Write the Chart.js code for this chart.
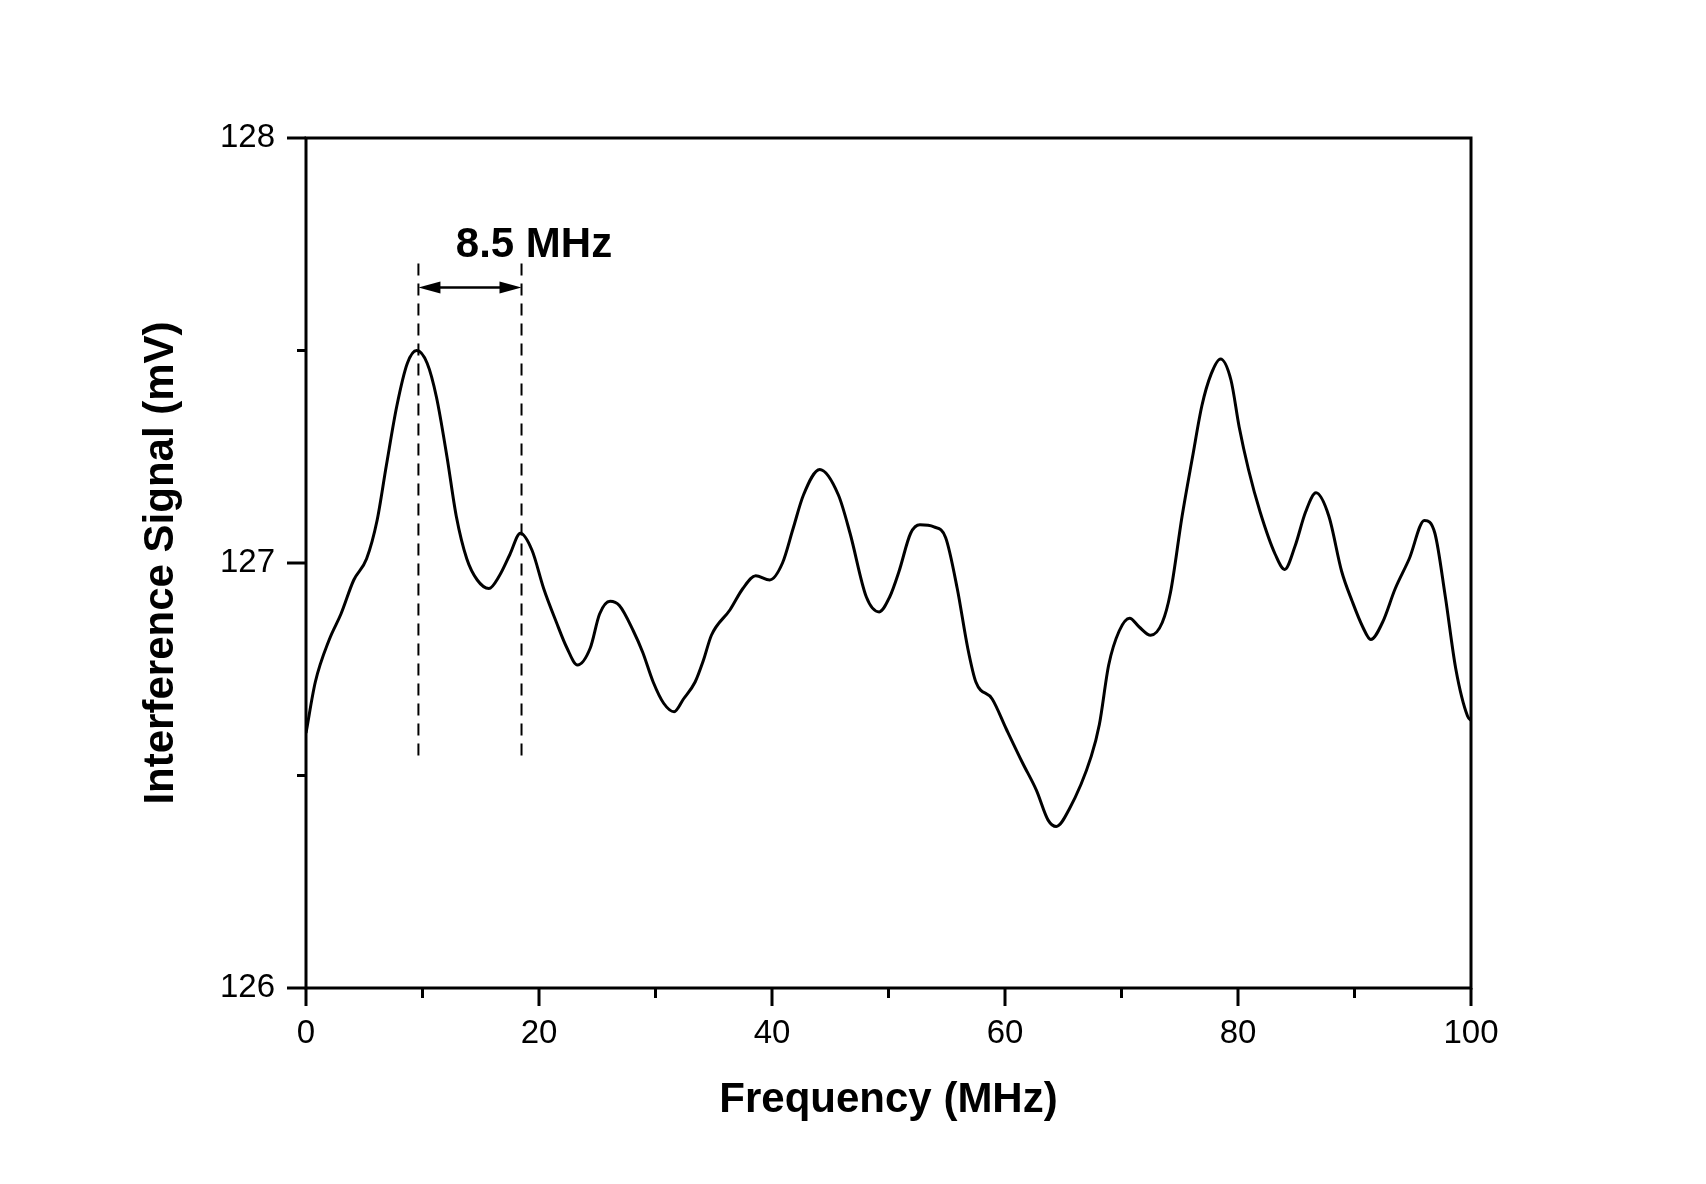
<!DOCTYPE html>
<html lang="en">
<head>
<meta charset="UTF-8">
<title>Interference Signal vs Frequency</title>
<script src="https://cdn.jsdelivr.net/npm/chart.js"></script>
<style>
    body { margin: 0; background: #fff; }
    canvas { display: block; }
</style>
</head>
<body>
<canvas id="signalChart" width="1706" height="1184"></canvas>
<script>
// Frequency (MHz) and interference signal (mV)
const freq = [
    0, 0.8, 2.0, 3.0, 4.1, 5.2, 6.1, 6.9, 7.8, 8.7, 9.5, 10.4, 11.2, 12.1, 12.9, 13.8, 14.7, 15.7,
    16.6, 17.5, 18.4, 19.4, 20.4, 21.5, 22.4, 23.3, 24.4, 25.2, 26.1, 26.9, 28.1, 28.9, 29.8, 30.7,
    31.6, 32.4, 33.4, 34.1, 34.8, 36.4, 37.5, 38.6, 39.8, 40.9, 41.8, 42.7, 44.1, 45.7, 46.7, 48.1,
    49.2, 50.1, 50.9, 51.9, 52.7, 53.9, 54.9, 55.9, 56.8, 57.5, 58.9, 60.1, 61.5, 62.7, 63.7, 64.4,
    65.5, 67.4, 68.1, 68.9, 69.8, 70.7, 71.5, 72.5, 73.5, 74.2, 75.2, 76.1, 76.9, 77.7, 78.5, 79.4,
    80.1, 80.9, 81.9, 83.2, 84.0, 84.9, 85.8, 86.7, 87.8, 88.9, 89.8, 90.7, 91.4, 92.4, 93.5, 94.7,
    96.0, 96.9, 97.8, 98.7, 99.7, 100
];
const signal = [
    126.60, 126.72, 126.82, 126.88, 126.96, 127.01, 127.10, 127.23, 127.37, 127.47, 127.50, 127.47,
    127.39, 127.25, 127.11, 127.01, 126.96, 126.94, 126.97, 127.02, 127.07, 127.03, 126.94, 126.86,
    126.80, 126.76, 126.80, 126.88, 126.91, 126.90, 126.84, 126.79, 126.72, 126.67, 126.65, 126.68,
    126.72, 126.77, 126.83, 126.89, 126.94, 126.97, 126.96, 127.00, 127.08, 127.16, 127.22, 127.16,
    127.07, 126.92, 126.885, 126.92, 126.98, 127.07, 127.09, 127.085, 127.06, 126.94, 126.80, 126.72,
    126.68, 126.61, 126.53, 126.465, 126.395, 126.38, 126.42, 126.545, 126.62, 126.76, 126.84, 126.87,
    126.85, 126.83, 126.86, 126.93, 127.11, 127.25, 127.37, 127.445, 127.48, 127.43, 127.32, 127.22,
    127.12, 127.02, 126.985, 127.04, 127.12, 127.165, 127.11, 126.98, 126.91, 126.85, 126.82, 126.86,
    126.94, 127.01, 127.10, 127.07, 126.92, 126.75, 126.64, 126.63
];

// Axis ranges and labelled ticks
const xRange = [0, 100];
const yRange = [126, 128];
const xLabelTicks = [0, 20, 40, 60, 80, 100];
const yLabelTicks = [126, 127, 128];

// Peak spacing marker (data units)
const markerX = [9.65, 18.5];
const markerY = [126.536, 127.705];
const arrowY = 127.648;
const markerLabel = '8.5 MHz';
const markerLabelPos = [19.57, 127.747];

const FONT = "'Liberation Sans', Arial, sans-serif";

const framePlugin = {
    id: 'frame',
    afterDraw(chart) {
        const { ctx, chartArea: a, scales: { x, y } } = chart;
        ctx.save();
        ctx.strokeStyle = '#000';
        ctx.lineWidth = 3;
        ctx.lineCap = 'butt';
        ctx.strokeRect(a.left, a.top, a.right - a.left, a.bottom - a.top);

        // bottom ticks (major every 20, minor every 10)
        x.ticks.forEach(t => {
            const px = x.getPixelForValue(t.value);
            const len = xLabelTicks.includes(t.value) ? 18 : 10;
            ctx.beginPath();
            ctx.moveTo(px, a.bottom);
            ctx.lineTo(px, a.bottom + len);
            ctx.stroke();
        });
        // left ticks
        y.ticks.forEach(t => {
            const py = y.getPixelForValue(t.value);
            const len = yLabelTicks.includes(t.value) ? 19 : 9;
            ctx.beginPath();
            ctx.moveTo(a.left, py);
            ctx.lineTo(a.left - len, py);
            ctx.stroke();
        });

        // dashed guide lines
        ctx.lineWidth = 2;
        ctx.setLineDash([12, 8]);
        markerX.forEach(v => {
            const px = x.getPixelForValue(v);
            ctx.beginPath();
            ctx.moveTo(px, y.getPixelForValue(markerY[1]));
            ctx.lineTo(px, y.getPixelForValue(markerY[0]));
            ctx.stroke();
        });
        ctx.setLineDash([]);

        // double arrow
        const x1 = x.getPixelForValue(markerX[0]);
        const x2 = x.getPixelForValue(markerX[1]);
        const ay = y.getPixelForValue(arrowY);
        const head = 22, half = 6;
        ctx.lineWidth = 2.5;
        ctx.beginPath();
        ctx.moveTo(x1 + head - 2, ay);
        ctx.lineTo(x2 - head + 2, ay);
        ctx.stroke();
        ctx.fillStyle = '#000';
        ctx.beginPath();
        ctx.moveTo(x1, ay);
        ctx.lineTo(x1 + head, ay - half);
        ctx.lineTo(x1 + head, ay + half);
        ctx.closePath();
        ctx.fill();
        ctx.beginPath();
        ctx.moveTo(x2, ay);
        ctx.lineTo(x2 - head, ay - half);
        ctx.lineTo(x2 - head, ay + half);
        ctx.closePath();
        ctx.fill();

        // label
        ctx.font = 'bold 42px ' + FONT;
        ctx.textAlign = 'center';
        ctx.textBaseline = 'middle';
        ctx.fillText(markerLabel, x.getPixelForValue(markerLabelPos[0]), y.getPixelForValue(markerLabelPos[1]));
        ctx.restore();
    }
};

new Chart(document.getElementById('signalChart'), {
    type: 'line',
    data: {
        datasets: [{
            data: freq.map((f, i) => ({ x: f, y: signal[i] })),
            borderColor: '#000',
            borderWidth: 3,
            pointRadius: 0,
            cubicInterpolationMode: 'monotone',
            fill: false,
        }]
    },
    options: {
        responsive: false,
        animation: false,
        devicePixelRatio: 1,
        layout: { padding: { top: 138, right: 235, bottom: 0, left: 0 } },
        plugins: { legend: { display: false }, tooltip: { enabled: false } },
        scales: {
            x: {
                type: 'linear',
                min: xRange[0],
                max: xRange[1],
                afterFit: s => { s.height = 196; },
                grid: { display: false, drawTicks: false },
                border: { display: false },
                ticks: {
                    stepSize: 10,
                    padding: 26,
                    color: '#000',
                    font: { size: 33, family: FONT },
                    maxRotation: 0,
                    callback: v => xLabelTicks.includes(v) ? String(v) : '',
                },
                title: {
                    display: true,
                    text: 'Frequency (MHz)',
                    color: '#000',
                    font: { size: 42, weight: 'bold', family: FONT },
                    padding: { top: 0, bottom: 58 },
                },
            },
            y: {
                min: yRange[0],
                max: yRange[1],
                afterFit: s => { s.width = 306; },
                grid: { display: false, drawTicks: false },
                border: { display: false },
                ticks: {
                    stepSize: 0.5,
                    padding: 31,
                    color: '#000',
                    font: { size: 33, family: FONT },
                    callback: v => yLabelTicks.includes(v) ? String(v) : '',
                },
                title: {
                    display: true,
                    text: 'Interference Signal (mV)',
                    color: '#000',
                    font: { size: 42, weight: 'bold', family: FONT },
                    padding: { top: 136, bottom: 0 },
                },
            },
        },
    },
    plugins: [framePlugin],
});
</script>
</body>
</html>
